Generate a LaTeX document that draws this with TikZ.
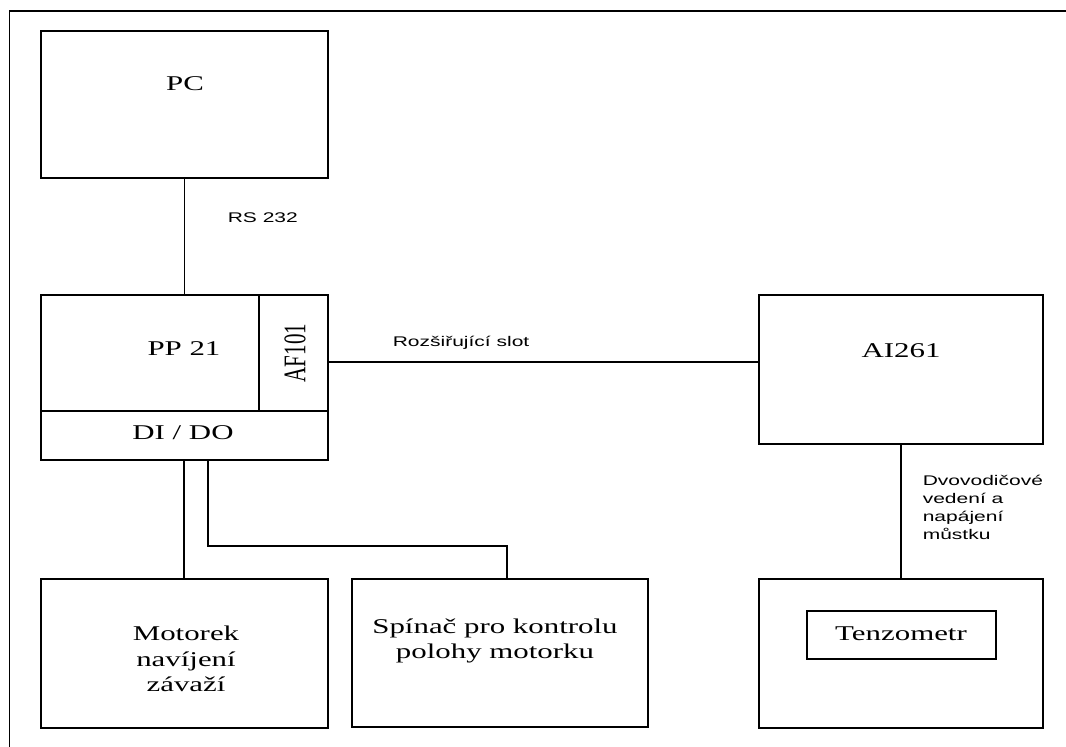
\documentclass[tikz,border=0pt]{standalone}
\usepackage{fontspec}
\setmainfont{Liberation Serif}
\newfontfamily\wideserif[FakeStretch=1.47]{Liberation Serif}
\newfontfamily\widesans[FakeStretch=1.5]{Liberation Sans}
\newfontfamily\plainserif{Liberation Serif}
\begin{document}
\begin{tikzpicture}[x=1pt,y=-1pt,
  line width=1.6pt,
  box/.style={draw, inner sep=0pt, outer sep=0pt},
  sertext/.style={inner sep=0pt, align=center, font={\wideserif\fontsize{21}{25.5}\selectfont}},
  santext/.style={inner sep=0pt, align=left, font={\widesans\fontsize{14}{18}\selectfont}},
  wire/.style={draw, line width=1.6pt}]
\useasboundingbox (0,0) rectangle (1066,747);
% outer frame (only left and top edges visible)
\draw (9.5,747) -- (9.5,11) -- (1066,11);
% boxes
\node[box, minimum width=287pt, minimum height=147pt] (pc) at (184.5,104.5) {};
\node[box, minimum width=218pt, minimum height=116pt] (pp) at (150,353) {};
\node[box, minimum width=69pt, minimum height=116pt] (af) at (293.5,353) {};
\node[box, minimum width=287pt, minimum height=49pt] (dio) at (184.5,435.5) {};
\node[box, minimum width=284pt, minimum height=149pt] (ai) at (901,369.5) {};
\node[box, minimum width=287pt, minimum height=149pt] (motor) at (184.5,653.5) {};
\node[box, minimum width=296pt, minimum height=148pt] (spinac) at (500,653) {};
\node[box, minimum width=284pt, minimum height=149pt] (tenzo) at (901,653.5) {};
\node[box, minimum width=189pt, minimum height=48pt] (tenzoin) at (901.5,635) {};
% texts
\node[sertext] (tpc) at (185,84) {PC};
\node[sertext] (tpp) at (184,349) {PP 21};
\node[inner sep=0pt] (taf) at (295,353) {\rotatebox{90}{\scalebox{1}[1.5]{\plainserif\fontsize{21}{25}\selectfont AF101}}};
\node[sertext] (tdio) at (183,433) {DI / DO};
\node[sertext] (tai) at (901,351) {AI261};
\node[sertext] (ttenzo) at (901,634) {Tenzometr};
\node[sertext] (tmotor) at (186,659) {Motorek\\ navíjení\\ závaží};
\node[sertext] (tspinac) at (495,641) {Spínač pro kontrolu\\ polohy motorku};
\node[santext, anchor=west] (lrs) at (227,218) {RS 232};
\node[santext, anchor=west] (lslot) at (392,343) {Rozšiřující slot};
\node[santext, anchor=north west] (ldvo) at (922,474) {Dvovodičové\\ vedení a\\ napájení\\ můstku};
% connectors
\draw[wire] (pc.south) -- (pp.north -| pc.south);
\draw[wire] ([yshift=-9pt]af.east) -- ([yshift=-9pt]af.east -| ai.west);
\draw[wire] ([xshift=-0.5pt]dio.south) -- ([xshift=-0.5pt]motor.north);
\draw[wire] ([xshift=23.5pt]dio.south) -- ++(0,86) -| ([xshift=7pt]spinac.north);
\draw[wire] (ai.south) -- (tenzo.north);
\end{tikzpicture}
\end{document}
